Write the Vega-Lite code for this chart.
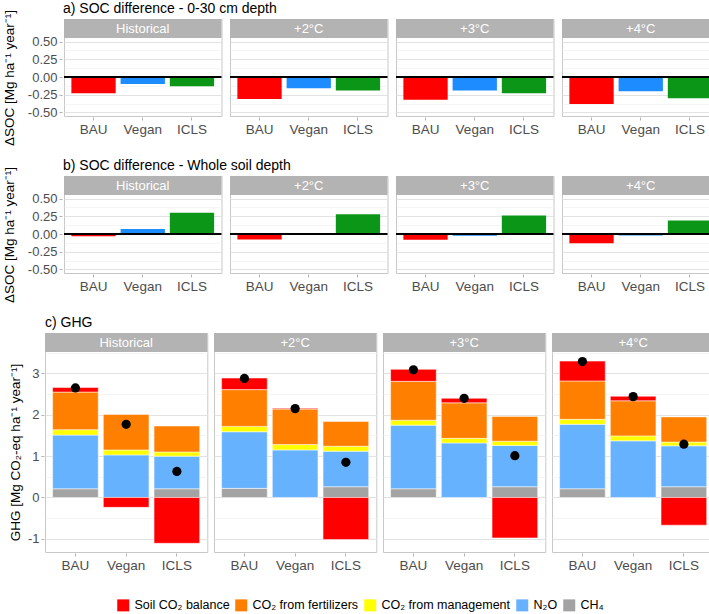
{
  "$schema": "https://vega.github.io/schema/vega-lite/v6.json",
  "background": "white",
  "padding": {"left": 2, "top": 2, "right": 0, "bottom": 0},
  "config": {
    "font": "Liberation Sans",
    "view": {"stroke": "#C8C8C8", "strokeWidth": 1},
    "axis": {"labelFont": "Liberation Sans", "labelFontSize": 13, "labelColor": "#4D4D4D", "tickColor": "#B3B3B3", "tickSize": 3, "domain": false, "titleFont": "Liberation Sans", "titleFontSize": 13.5, "titleFontWeight": "normal", "titleColor": "#000000", "labelOverlap": false, "gridColor": "#E2E2E2"},
    "header": {"labels": false, "titleOrient": "top", "titleAnchor": "start", "titleFont": "Liberation Sans", "titleFontSize": 14, "titleFontWeight": "normal", "titleColor": "#000000", "titlePadding": -8},
    "legend": {"labelFont": "Liberation Sans"}
  },
  "datasets": {
    "socA": [
      {"scenario": "Historical", "system": "BAU", "value": -0.23},
      {"scenario": "Historical", "system": "Vegan", "value": -0.10},
      {"scenario": "Historical", "system": "ICLS", "value": -0.13},
      {"scenario": "+2°C", "system": "BAU", "value": -0.31},
      {"scenario": "+2°C", "system": "Vegan", "value": -0.16},
      {"scenario": "+2°C", "system": "ICLS", "value": -0.19},
      {"scenario": "+3°C", "system": "BAU", "value": -0.32},
      {"scenario": "+3°C", "system": "Vegan", "value": -0.19},
      {"scenario": "+3°C", "system": "ICLS", "value": -0.23},
      {"scenario": "+4°C", "system": "BAU", "value": -0.38},
      {"scenario": "+4°C", "system": "Vegan", "value": -0.20},
      {"scenario": "+4°C", "system": "ICLS", "value": -0.30}
    ],
    "socB": [
      {"scenario": "Historical", "system": "BAU", "value": -0.03},
      {"scenario": "Historical", "system": "Vegan", "value": 0.07},
      {"scenario": "Historical", "system": "ICLS", "value": 0.30},
      {"scenario": "+2°C", "system": "BAU", "value": -0.078},
      {"scenario": "+2°C", "system": "Vegan", "value": -0.005},
      {"scenario": "+2°C", "system": "ICLS", "value": 0.28},
      {"scenario": "+3°C", "system": "BAU", "value": -0.08},
      {"scenario": "+3°C", "system": "Vegan", "value": -0.025},
      {"scenario": "+3°C", "system": "ICLS", "value": 0.26},
      {"scenario": "+4°C", "system": "BAU", "value": -0.13},
      {"scenario": "+4°C", "system": "Vegan", "value": -0.02},
      {"scenario": "+4°C", "system": "ICLS", "value": 0.19}
    ],
    "ghg": [
      {"scenario": "Historical", "system": "BAU", "component": "CH₄", "value": 0.21},
      {"scenario": "Historical", "system": "BAU", "component": "N₂O", "value": 1.30},
      {"scenario": "Historical", "system": "BAU", "component": "CO₂ from management", "value": 0.13},
      {"scenario": "Historical", "system": "BAU", "component": "CO₂ from fertilizers", "value": 0.91},
      {"scenario": "Historical", "system": "BAU", "component": "Soil CO₂ balance", "value": 0.11},
      {"scenario": "Historical", "system": "Vegan", "component": "N₂O", "value": 1.03},
      {"scenario": "Historical", "system": "Vegan", "component": "CO₂ from management", "value": 0.12},
      {"scenario": "Historical", "system": "Vegan", "component": "CO₂ from fertilizers", "value": 0.86},
      {"scenario": "Historical", "system": "Vegan", "component": "Soil CO₂ balance", "value": -0.24},
      {"scenario": "Historical", "system": "ICLS", "component": "CH₄", "value": 0.21},
      {"scenario": "Historical", "system": "ICLS", "component": "N₂O", "value": 0.79},
      {"scenario": "Historical", "system": "ICLS", "component": "CO₂ from management", "value": 0.10},
      {"scenario": "Historical", "system": "ICLS", "component": "CO₂ from fertilizers", "value": 0.63},
      {"scenario": "Historical", "system": "ICLS", "component": "Soil CO₂ balance", "value": -1.11},
      {"scenario": "+2°C", "system": "BAU", "component": "CH₄", "value": 0.22},
      {"scenario": "+2°C", "system": "BAU", "component": "N₂O", "value": 1.37},
      {"scenario": "+2°C", "system": "BAU", "component": "CO₂ from management", "value": 0.13},
      {"scenario": "+2°C", "system": "BAU", "component": "CO₂ from fertilizers", "value": 0.89},
      {"scenario": "+2°C", "system": "BAU", "component": "Soil CO₂ balance", "value": 0.28},
      {"scenario": "+2°C", "system": "Vegan", "component": "N₂O", "value": 1.15},
      {"scenario": "+2°C", "system": "Vegan", "component": "CO₂ from management", "value": 0.13},
      {"scenario": "+2°C", "system": "Vegan", "component": "CO₂ from fertilizers", "value": 0.86},
      {"scenario": "+2°C", "system": "Vegan", "component": "Soil CO₂ balance", "value": 0.02},
      {"scenario": "+2°C", "system": "ICLS", "component": "CH₄", "value": 0.26},
      {"scenario": "+2°C", "system": "ICLS", "component": "N₂O", "value": 0.86},
      {"scenario": "+2°C", "system": "ICLS", "component": "CO₂ from management", "value": 0.12},
      {"scenario": "+2°C", "system": "ICLS", "component": "CO₂ from fertilizers", "value": 0.60},
      {"scenario": "+2°C", "system": "ICLS", "component": "Soil CO₂ balance", "value": -1.02},
      {"scenario": "+3°C", "system": "BAU", "component": "CH₄", "value": 0.21},
      {"scenario": "+3°C", "system": "BAU", "component": "N₂O", "value": 1.54},
      {"scenario": "+3°C", "system": "BAU", "component": "CO₂ from management", "value": 0.12},
      {"scenario": "+3°C", "system": "BAU", "component": "CO₂ from fertilizers", "value": 0.94},
      {"scenario": "+3°C", "system": "BAU", "component": "Soil CO₂ balance", "value": 0.29},
      {"scenario": "+3°C", "system": "Vegan", "component": "N₂O", "value": 1.32},
      {"scenario": "+3°C", "system": "Vegan", "component": "CO₂ from management", "value": 0.11},
      {"scenario": "+3°C", "system": "Vegan", "component": "CO₂ from fertilizers", "value": 0.86},
      {"scenario": "+3°C", "system": "Vegan", "component": "Soil CO₂ balance", "value": 0.11},
      {"scenario": "+3°C", "system": "ICLS", "component": "CH₄", "value": 0.26},
      {"scenario": "+3°C", "system": "ICLS", "component": "N₂O", "value": 1.00},
      {"scenario": "+3°C", "system": "ICLS", "component": "CO₂ from management", "value": 0.10},
      {"scenario": "+3°C", "system": "ICLS", "component": "CO₂ from fertilizers", "value": 0.60},
      {"scenario": "+3°C", "system": "ICLS", "component": "Soil CO₂ balance", "value": -0.98},
      {"scenario": "+4°C", "system": "BAU", "component": "CH₄", "value": 0.21},
      {"scenario": "+4°C", "system": "BAU", "component": "N₂O", "value": 1.56},
      {"scenario": "+4°C", "system": "BAU", "component": "CO₂ from management", "value": 0.12},
      {"scenario": "+4°C", "system": "BAU", "component": "CO₂ from fertilizers", "value": 0.93},
      {"scenario": "+4°C", "system": "BAU", "component": "Soil CO₂ balance", "value": 0.48},
      {"scenario": "+4°C", "system": "Vegan", "component": "N₂O", "value": 1.37},
      {"scenario": "+4°C", "system": "Vegan", "component": "CO₂ from management", "value": 0.12},
      {"scenario": "+4°C", "system": "Vegan", "component": "CO₂ from fertilizers", "value": 0.85},
      {"scenario": "+4°C", "system": "Vegan", "component": "Soil CO₂ balance", "value": 0.11},
      {"scenario": "+4°C", "system": "ICLS", "component": "CH₄", "value": 0.26},
      {"scenario": "+4°C", "system": "ICLS", "component": "N₂O", "value": 0.99},
      {"scenario": "+4°C", "system": "ICLS", "component": "CO₂ from management", "value": 0.09},
      {"scenario": "+4°C", "system": "ICLS", "component": "CO₂ from fertilizers", "value": 0.61},
      {"scenario": "+4°C", "system": "ICLS", "component": "Soil CO₂ balance", "value": -0.67},
      {"scenario": "Historical", "system": "BAU", "net": 2.65},
      {"scenario": "Historical", "system": "Vegan", "net": 1.77},
      {"scenario": "Historical", "system": "ICLS", "net": 0.63},
      {"scenario": "+2°C", "system": "BAU", "net": 2.88},
      {"scenario": "+2°C", "system": "Vegan", "net": 2.15},
      {"scenario": "+2°C", "system": "ICLS", "net": 0.85},
      {"scenario": "+3°C", "system": "BAU", "net": 3.09},
      {"scenario": "+3°C", "system": "Vegan", "net": 2.40},
      {"scenario": "+3°C", "system": "ICLS", "net": 1.01},
      {"scenario": "+4°C", "system": "BAU", "net": 3.29},
      {"scenario": "+4°C", "system": "Vegan", "net": 2.44},
      {"scenario": "+4°C", "system": "ICLS", "net": 1.29}
    ]
  },
  "resolve": {"scale": {"color": "independent", "x": "independent", "y": "independent"}, "legend": {"color": "independent"}},
  "spacing": 13,
  "vconcat": [
    {
      "spacing": 5,
      "bounds": "flush",
      "resolve": {"scale": {"color": "independent"}, "legend": {"color": "independent"}},
      "hconcat": [
        {"width": 14, "height": 5, "data": {"values": [{"a": 1}]}, "mark": {"type": "point", "opacity": 0}, "encoding": {}, "view": {"stroke": null}},
        {
          "data": {"name": "socA"},
          "facet": {"column": {"field": "scenario", "type": "nominal", "sort": ["Historical", "+2°C", "+3°C", "+4°C"], "title": "a) SOC difference - 0-30 cm depth"}},
          "spacing": 5,
          "spec": {
            "width": 157.5, "height": 97,
            "resolve": {"axis": {"y": "independent"}},
            "layer": [
              {
                "mark": {"type": "bar"},
                "encoding": {
                  "x": {"field": "system", "type": "nominal", "sort": ["BAU", "Vegan", "ICLS"], "scale": {"paddingInner": 0.1, "paddingOuter": 0.15}, "axis": {"title": null, "labelAngle": 0, "grid": false, "labelPadding": 2, "labelFontSize": 13.5}},
                  "y": {"field": "value", "type": "quantitative", "scale": {"domain": [-0.55, 0.818], "nice": false, "zero": false},
                    "axis": {"orient": "left", "title": "ΔSOC [Mg ha⁻¹ year⁻¹]", "titlePadding": 11, "titleY": 58.5, "labelOverlap": false, "values": [-0.5, -0.25, 0, 0.25, 0.5], "format": ".2f",
                      "labelExpr": "replace(datum.label, '−', '-')", "grid": true}},
                  "color": {"field": "system", "type": "nominal", "scale": {"domain": ["BAU", "Vegan", "ICLS"], "range": ["#FF0000", "#1C8CFF", "#0B9617"]}, "legend": null}
                }
              },
              {
                "transform": [{"filter": "datum.system == 'BAU'"}],
                "mark": {"type": "rule", "color": "black", "strokeWidth": 2},
                "encoding": {"y": {"datum": 0, "axis": {"orient": "left", "title": null, "values": [-0.375, -0.125, 0.125, 0.375], "labels": false, "ticks": false, "grid": true, "gridColor": "#F0F0F0", "gridWidth": 0.7}}}
              },
              {
                "transform": [{"filter": "datum.system == 'BAU'"}],
                "mark": {"type": "rect", "color": "#B3B3B3"},
                "encoding": {"y": {"datum": 0.55, "axis": null}, "y2": {"datum": 0.818}}
              },
              {
                "transform": [{"filter": "datum.system == 'BAU'"}],
                "mark": {"type": "text", "color": "white", "fontSize": 13, "font": "Liberation Sans", "baseline": "middle"},
                "encoding": {"y": {"datum": 0.684, "axis": null}, "text": {"field": "scenario", "type": "nominal"}}
              }
            ]
          }
        }
      ]
    },
    {
      "spacing": 5,
      "bounds": "flush",
      "resolve": {"scale": {"color": "independent"}, "legend": {"color": "independent"}},
      "hconcat": [
        {"width": 14, "height": 5, "data": {"values": [{"a": 1}]}, "mark": {"type": "point", "opacity": 0}, "encoding": {}, "view": {"stroke": null}},
        {
          "data": {"name": "socB"},
          "facet": {"column": {"field": "scenario", "type": "nominal", "sort": ["Historical", "+2°C", "+3°C", "+4°C"], "title": "b) SOC difference - Whole soil depth"}},
          "spacing": 5,
          "spec": {
            "width": 157.5, "height": 97,
            "resolve": {"axis": {"y": "independent"}},
            "layer": [
              {
                "mark": {"type": "bar"},
                "encoding": {
                  "x": {"field": "system", "type": "nominal", "sort": ["BAU", "Vegan", "ICLS"], "scale": {"paddingInner": 0.1, "paddingOuter": 0.15}, "axis": {"title": null, "labelAngle": 0, "grid": false, "labelPadding": 2, "labelFontSize": 13.5}},
                  "y": {"field": "value", "type": "quantitative", "scale": {"domain": [-0.55, 0.818], "nice": false, "zero": false},
                    "axis": {"orient": "left", "title": "ΔSOC [Mg ha⁻¹ year⁻¹]", "titlePadding": 11, "titleY": 58.5, "labelOverlap": false, "values": [-0.5, -0.25, 0, 0.25, 0.5], "format": ".2f",
                      "labelExpr": "replace(datum.label, '−', '-')", "grid": true}},
                  "color": {"field": "system", "type": "nominal", "scale": {"domain": ["BAU", "Vegan", "ICLS"], "range": ["#FF0000", "#1C8CFF", "#0B9617"]}, "legend": null}
                }
              },
              {
                "transform": [{"filter": "datum.system == 'BAU'"}],
                "mark": {"type": "rule", "color": "black", "strokeWidth": 2},
                "encoding": {"y": {"datum": 0, "axis": {"orient": "left", "title": null, "values": [-0.375, -0.125, 0.125, 0.375], "labels": false, "ticks": false, "grid": true, "gridColor": "#F0F0F0", "gridWidth": 0.7}}}
              },
              {
                "transform": [{"filter": "datum.system == 'BAU'"}],
                "mark": {"type": "rect", "color": "#B3B3B3"},
                "encoding": {"y": {"datum": 0.55, "axis": null}, "y2": {"datum": 0.818}}
              },
              {
                "transform": [{"filter": "datum.system == 'BAU'"}],
                "mark": {"type": "text", "color": "white", "fontSize": 13, "font": "Liberation Sans", "baseline": "middle"},
                "encoding": {"y": {"datum": 0.684, "axis": null}, "text": {"field": "scenario", "type": "nominal"}}
              }
            ]
          }
        }
      ]
    },
    {
      "data": {"name": "ghg"},
      "transform": [{"calculate": "indexof(['Soil CO₂ balance', 'CO₂ from fertilizers', 'CO₂ from management', 'N₂O', 'CH₄'], datum.component)", "as": "ord"}],
      "facet": {"column": {"field": "scenario", "type": "nominal", "sort": ["Historical", "+2°C", "+3°C", "+4°C"], "title": "c) GHG"}},
      "spacing": 5,
      "spec": {
        "width": 162.3, "height": 219,
        "resolve": {"axis": {"y": "independent"}},
        "layer": [
          {
            "transform": [{"filter": "isValid(datum.component)"}],
            "mark": {"type": "bar", "stroke": "white", "strokeWidth": 0.5},
            "encoding": {
              "x": {"field": "system", "type": "nominal", "sort": ["BAU", "Vegan", "ICLS"], "scale": {"paddingInner": 0.1, "paddingOuter": 0.15}, "axis": {"title": null, "labelAngle": 0, "grid": false, "labelPadding": 2, "labelFontSize": 13.5}},
              "y": {"field": "value", "type": "quantitative", "stack": "zero", "scale": {"domain": [-1.32, 3.98], "nice": false, "zero": false},
                "axis": {"orient": "left", "title": "GHG [Mg CO₂-eq ha⁻¹ year⁻¹]", "titlePadding": 5, "titleY": 119, "labelOverlap": false, "values": [-1, 0, 1, 2, 3], "format": "d",
                  "labelExpr": "replace(datum.label, '−', '-')", "grid": true}},
              "color": {"field": "component", "type": "nominal",
                "scale": {"domain": ["Soil CO₂ balance", "CO₂ from fertilizers", "CO₂ from management", "N₂O", "CH₄"], "range": ["#FF0000", "#FF8000", "#FFFF00", "#66B2FF", "#A3A3A3"]},
                "legend": {"title": null, "orient": "none", "legendX": 72, "legendY": 266, "direction": "horizontal", "symbolType": "square", "symbolSize": 144, "symbolStrokeWidth": 0, "labelFontSize": 12.5, "labelColor": "#000000", "columnPadding": 5, "labelOffset": 5}},
              "order": {"field": "ord", "type": "quantitative", "sort": "descending"}
            }
          },
          {
            "transform": [{"filter": "isValid(datum.net)"}],
            "mark": {"type": "circle", "color": "black", "opacity": 1, "size": 85},
            "encoding": {
              "x": {"field": "system", "type": "nominal", "sort": ["BAU", "Vegan", "ICLS"]},
              "y": {"field": "net", "type": "quantitative", "axis": {"orient": "left", "title": null, "values": [-0.5, 0.5, 1.5, 2.5, 3.5], "labels": false, "ticks": false, "grid": true, "gridColor": "#F0F0F0", "gridWidth": 0.7}}
            }
          },
          {
            "transform": [{"filter": "isValid(datum.net) && datum.system == 'BAU'"}],
            "mark": {"type": "rect", "color": "#B3B3B3"},
            "encoding": {"y": {"datum": 3.52, "axis": null}, "y2": {"datum": 3.98}}
          },
          {
            "transform": [{"filter": "isValid(datum.net) && datum.system == 'BAU'"}],
            "mark": {"type": "text", "color": "white", "fontSize": 13, "font": "Liberation Sans", "baseline": "middle"},
            "encoding": {"y": {"datum": 3.75, "axis": null}, "text": {"field": "scenario", "type": "nominal"}}
          }
        ]
      }
    }
  ]
}
